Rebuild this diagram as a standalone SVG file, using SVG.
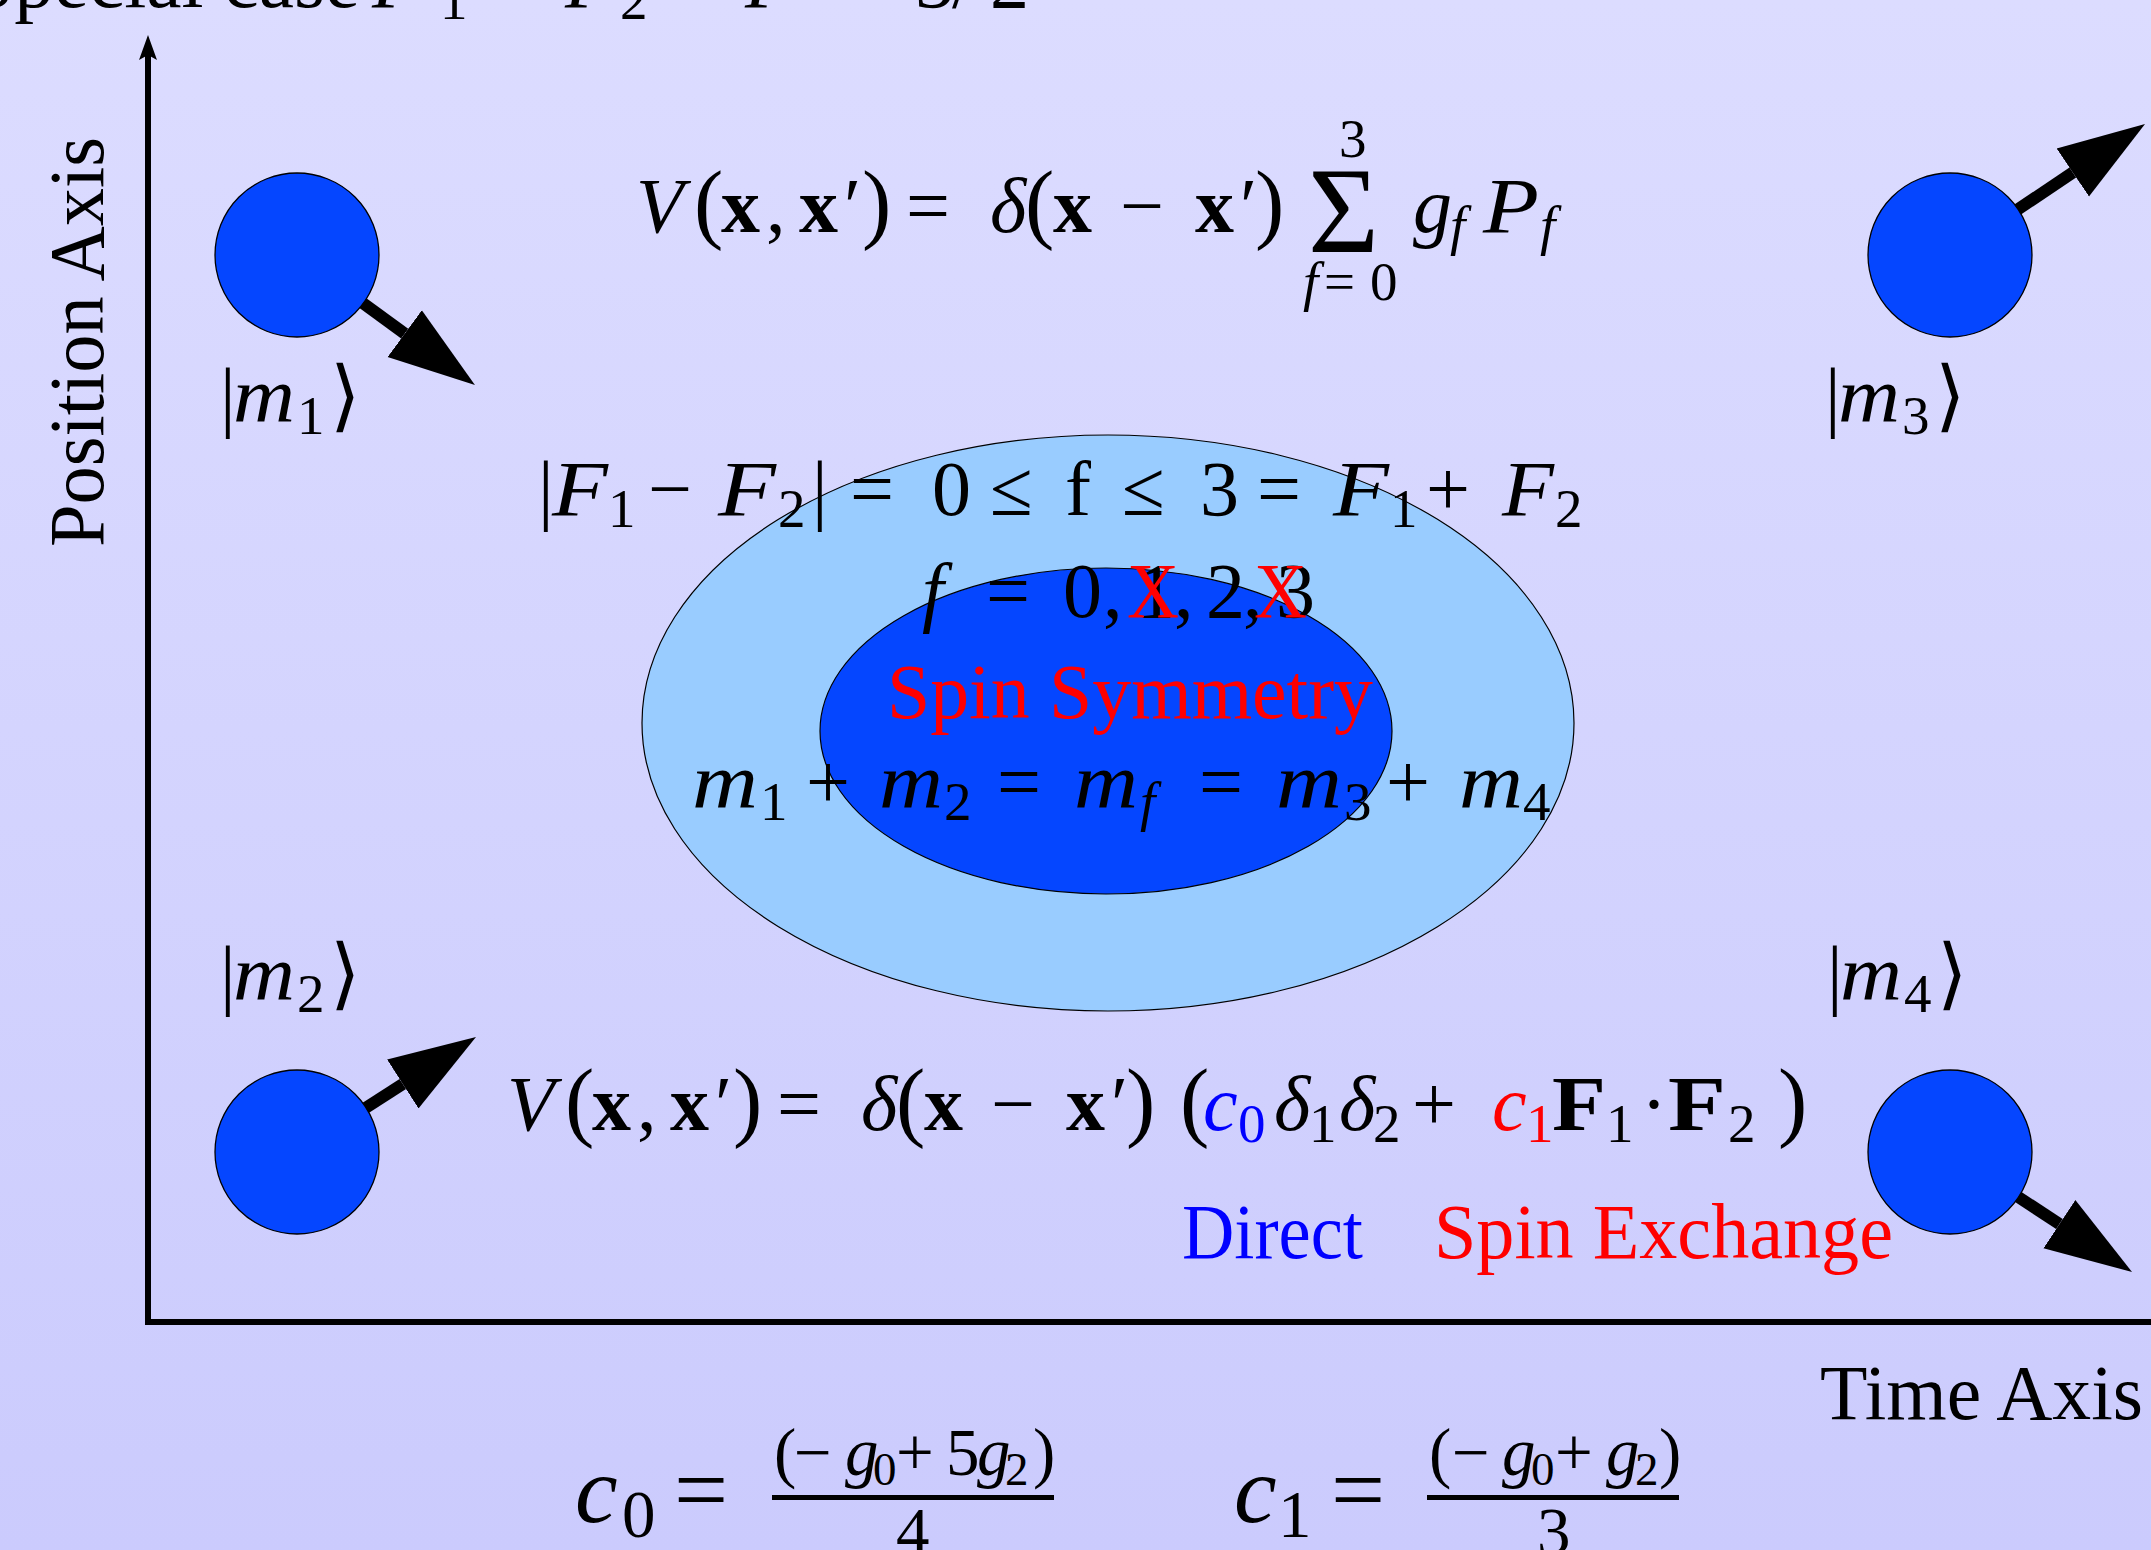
<svg xmlns="http://www.w3.org/2000/svg" width="2151" height="1550" viewBox="0 0 2151 1550">
<defs>
<linearGradient id="bg" x1="0" y1="0" x2="0" y2="1">
<stop offset="0" stop-color="#dcdcff"/>
<stop offset="1" stop-color="#cbcbfd"/>
</linearGradient>
<marker id="head" markerUnits="userSpaceOnUse" markerWidth="90" markerHeight="60" refX="0" refY="29" orient="auto" viewBox="0 0 90 58">
<path d="M0,0 L87,29 L0,58 Z" fill="#000"/>
</marker>
<style>
.t{font-family:"Liberation Serif","Times New Roman","DejaVu Serif",serif;font-size:78px;fill:#000}
.i{font-style:italic}
.b{font-weight:bold}
.s{font-size:55px}
.p{font-size:88px}
.red{fill:#ff0000}
.blue{fill:#0000ff}
.ball{fill:#0546ff;stroke:#000;stroke-width:1.3}
.spin{stroke:#000;stroke-width:12;fill:none;marker-end:url(#head)}
.ax{stroke:#000;stroke-width:6;fill:none}
.big{font-size:96px}
.num{font-size:67px}
.ns{font-size:47px}
</style>
</defs>
<rect x="0" y="0" width="2151" height="1550" fill="url(#bg)"/>

<g id="title">
<text class="t" y="7"><tspan x="-30" textLength="390" lengthAdjust="spacingAndGlyphs">Special case</tspan><tspan class="i" x="372">F</tspan><tspan class="s" x="440" y="19">1</tspan><tspan x="487" y="7">=</tspan><tspan class="i" x="565">F</tspan><tspan class="s" x="620" y="19">2</tspan><tspan x="667" y="7">=</tspan><tspan class="i" x="745">F</tspan><tspan x="830">=</tspan><tspan x="915">3</tspan><tspan x="952">/</tspan><tspan x="990">2</tspan></text>
</g>

<g id="connectors">
<line class="ax" x1="148" y1="1322" x2="148" y2="50"/>
<polygon points="148,35 157,60 148,55 139,60" fill="#000"/>
<line class="ax" x1="145" y1="1322" x2="2151" y2="1322"/>
</g>

<g id="position-axis-label">
<text class="t" transform="translate(103,547) rotate(-90)" x="0" y="0" textLength="410" lengthAdjust="spacingAndGlyphs">Position Axis</text>
</g>
<g id="time-axis-label">
<text class="t" x="1820" y="1419" textLength="323" lengthAdjust="spacingAndGlyphs">Time Axis</text>
</g>

<g id="outer-ellipse">
<ellipse cx="1108" cy="723" rx="466" ry="288" fill="#99ccff" stroke="#000" stroke-width="1.2"/>
</g>
<g id="inner-ellipse">
<ellipse cx="1106" cy="731" rx="286" ry="163" fill="#0546ff" stroke="#000" stroke-width="1.2"/>
</g>

<g id="ball-m1">
<line class="spin" x1="297" y1="255" x2="404.7" y2="333.7"/>
<circle class="ball" cx="297" cy="255" r="82"/>
<text class="t" y="422"><tspan x="220">|</tspan><tspan class="i" x="233" textLength="62" lengthAdjust="spacingAndGlyphs">m</tspan><tspan class="s" x="297" y="434">1</tspan><tspan x="330" y="422">⟩</tspan></text>
</g>
<g id="ball-m2">
<line class="spin" x1="297" y1="1152" x2="402.8" y2="1084"/>
<circle class="ball" cx="297" cy="1152" r="82"/>
<text class="t" y="1000"><tspan x="220">|</tspan><tspan class="i" x="233" textLength="62" lengthAdjust="spacingAndGlyphs">m</tspan><tspan class="s" x="297" y="1012">2</tspan><tspan x="330" y="1000">⟩</tspan></text>
</g>
<g id="ball-m3">
<line class="spin" x1="1950" y1="255" x2="2072.8" y2="172.5"/>
<circle class="ball" cx="1950" cy="255" r="82"/>
<text class="t" y="422"><tspan x="1825">|</tspan><tspan class="i" x="1838" textLength="62" lengthAdjust="spacingAndGlyphs">m</tspan><tspan class="s" x="1902" y="434">3</tspan><tspan x="1935" y="422">⟩</tspan></text>
</g>
<g id="ball-m4">
<line class="spin" x1="1950" y1="1152" x2="2059.4" y2="1224.1"/>
<circle class="ball" cx="1950" cy="1152" r="82"/>
<text class="t" y="1000"><tspan x="1827">|</tspan><tspan class="i" x="1840" textLength="62" lengthAdjust="spacingAndGlyphs">m</tspan><tspan class="s" x="1904" y="1012">4</tspan><tspan x="1937" y="1000">⟩</tspan></text>
</g>

<g id="potential-sum">
<text class="t" y="232"><tspan class="i" x="636">V</tspan><tspan class="p" x="694">(</tspan><tspan class="b" x="721">x</tspan><tspan x="766">,</tspan><tspan class="b" x="799">x</tspan><tspan x="844">′</tspan><tspan class="p" x="862">)</tspan><tspan x="906">=</tspan><tspan class="i" x="990">δ</tspan><tspan class="p" x="1025">(</tspan><tspan class="b" x="1053">x</tspan><tspan x="1120">−</tspan><tspan class="b" x="1195">x</tspan><tspan x="1240">′</tspan><tspan class="p" x="1255">)</tspan><tspan class="i" x="1413">g</tspan><tspan class="s i" x="1450" y="244">f</tspan><tspan class="i" x="1483" y="232" textLength="56" lengthAdjust="spacingAndGlyphs">P</tspan><tspan class="s i" x="1540" y="244">f</tspan></text>
<text class="t" x="1308" y="252" style="font-size:122px">Σ</text>
<text class="t s" x="1339" y="157">3</text>
<text class="t s" y="300"><tspan class="i" x="1303">f</tspan><tspan x="1324">=</tspan><tspan x="1370">0</tspan></text>
</g>

<g id="f-range">
<text class="t" y="515"><tspan x="538">|</tspan><tspan class="i" x="552" textLength="56" lengthAdjust="spacingAndGlyphs">F</tspan><tspan class="s" x="608" y="527">1</tspan><tspan x="648" y="515">−</tspan><tspan class="i" x="718" textLength="58" lengthAdjust="spacingAndGlyphs">F</tspan><tspan class="s" x="778" y="527">2</tspan><tspan x="812" y="515">|</tspan><tspan x="850">=</tspan><tspan x="932">0</tspan><tspan x="990">≤</tspan><tspan x="1065">f</tspan><tspan x="1122">≤</tspan><tspan x="1200">3</tspan><tspan x="1257">=</tspan><tspan class="i" x="1333" textLength="56" lengthAdjust="spacingAndGlyphs">F</tspan><tspan class="s" x="1390" y="527">1</tspan><tspan x="1426" y="515">+</tspan><tspan class="i" x="1502" textLength="52" lengthAdjust="spacingAndGlyphs">F</tspan><tspan class="s" x="1555" y="527">2</tspan></text>
</g>

<g id="f-values">
<text class="t" y="617"><tspan class="i" x="922">f</tspan><tspan x="986">=</tspan><tspan x="1063">0</tspan><tspan x="1103">,</tspan><tspan x="1136">1</tspan><tspan x="1174">,</tspan><tspan x="1206">2</tspan><tspan x="1243">,</tspan><tspan x="1276">3</tspan></text>
<text class="t red" y="617"><tspan x="1127" textLength="52" lengthAdjust="spacingAndGlyphs">X</tspan><tspan x="1254" textLength="53" lengthAdjust="spacingAndGlyphs">X</tspan></text>
</g>

<g id="spin-symmetry">
<text class="t red" x="887" y="718" textLength="486" lengthAdjust="spacingAndGlyphs">Spin Symmetry</text>
</g>

<g id="m-conservation">
<text class="t" y="808"><tspan class="i" x="692" textLength="66" lengthAdjust="spacingAndGlyphs">m</tspan><tspan class="s" x="760" y="820">1</tspan><tspan x="806" y="808">+</tspan><tspan class="i" x="879" textLength="64" lengthAdjust="spacingAndGlyphs">m</tspan><tspan class="s" x="944" y="820">2</tspan><tspan x="997" y="808">=</tspan><tspan class="i" x="1074" textLength="64" lengthAdjust="spacingAndGlyphs">m</tspan><tspan class="s i" x="1140" y="820">f</tspan><tspan x="1199" y="808">=</tspan><tspan class="i" x="1276" textLength="66" lengthAdjust="spacingAndGlyphs">m</tspan><tspan class="s" x="1344" y="820">3</tspan><tspan x="1386" y="808">+</tspan><tspan class="i" x="1459" textLength="64" lengthAdjust="spacingAndGlyphs">m</tspan><tspan class="s" x="1523" y="820">4</tspan></text>
</g>

<g id="potential-contact">
<text class="t" y="1130"><tspan class="i" x="507">V</tspan><tspan class="p" x="565">(</tspan><tspan class="b" x="592">x</tspan><tspan x="637">,</tspan><tspan class="b" x="670">x</tspan><tspan x="715">′</tspan><tspan class="p" x="733">)</tspan><tspan x="777">=</tspan><tspan class="i" x="861">δ</tspan><tspan class="p" x="896">(</tspan><tspan class="b" x="924">x</tspan><tspan x="991">−</tspan><tspan class="b" x="1066">x</tspan><tspan x="1111">′</tspan><tspan class="p" x="1126">)</tspan><tspan class="p" x="1180">(</tspan><tspan class="i blue" x="1203">c</tspan><tspan class="s blue" x="1238" y="1142">0</tspan><tspan class="i" x="1274" y="1130">δ</tspan><tspan class="s" x="1309" y="1142">1</tspan><tspan class="i" x="1339" y="1130">δ</tspan><tspan class="s" x="1373" y="1142">2</tspan><tspan x="1412" y="1130">+</tspan><tspan class="i red" x="1492">c</tspan><tspan class="s red" x="1526" y="1142">1</tspan><tspan class="b" x="1552" y="1130" textLength="54" lengthAdjust="spacingAndGlyphs">F</tspan><tspan class="s" x="1606" y="1142">1</tspan><tspan x="1641" y="1130">·</tspan><tspan class="b" x="1668" textLength="58" lengthAdjust="spacingAndGlyphs">F</tspan><tspan class="s" x="1728" y="1142">2</tspan><tspan class="p" x="1778" y="1130">)</tspan></text>
</g>

<g id="labels-direct-exchange">
<text class="t blue" x="1182" y="1258" textLength="181" lengthAdjust="spacingAndGlyphs">Direct</text>
<text class="t red" x="1434" y="1258" textLength="459" lengthAdjust="spacingAndGlyphs">Spin Exchange</text>
</g>

<g id="coef-c0">
<text class="t big" y="1522"><tspan class="i" x="575">c</tspan><tspan class="num" x="622" y="1537">0</tspan><tspan x="674" y="1522">=</tspan></text>
<rect x="772" y="1495" width="282" height="5" fill="#000"/>
<text class="t num" y="1475"><tspan x="774">(</tspan><tspan x="794">−</tspan><tspan class="i" x="845">g</tspan><tspan class="ns" x="873" y="1485">0</tspan><tspan x="896" y="1475">+</tspan><tspan x="946">5</tspan><tspan class="i" x="977">g</tspan><tspan class="ns" x="1005" y="1485">2</tspan><tspan x="1033" y="1475">)</tspan></text>
<text class="t num" x="896" y="1554">4</text>
</g>

<g id="coef-c1">
<text class="t big" y="1522"><tspan class="i" x="1234">c</tspan><tspan class="num" x="1278" y="1537">1</tspan><tspan x="1331" y="1522">=</tspan></text>
<rect x="1427" y="1495" width="252" height="5" fill="#000"/>
<text class="t num" y="1475"><tspan x="1429">(</tspan><tspan x="1452">−</tspan><tspan class="i" x="1502">g</tspan><tspan class="ns" x="1531" y="1485">0</tspan><tspan x="1555" y="1475">+</tspan><tspan class="i" x="1606">g</tspan><tspan class="ns" x="1635" y="1485">2</tspan><tspan x="1659" y="1475">)</tspan></text>
<text class="t num" x="1537" y="1554">3</text>
</g>
</svg>
